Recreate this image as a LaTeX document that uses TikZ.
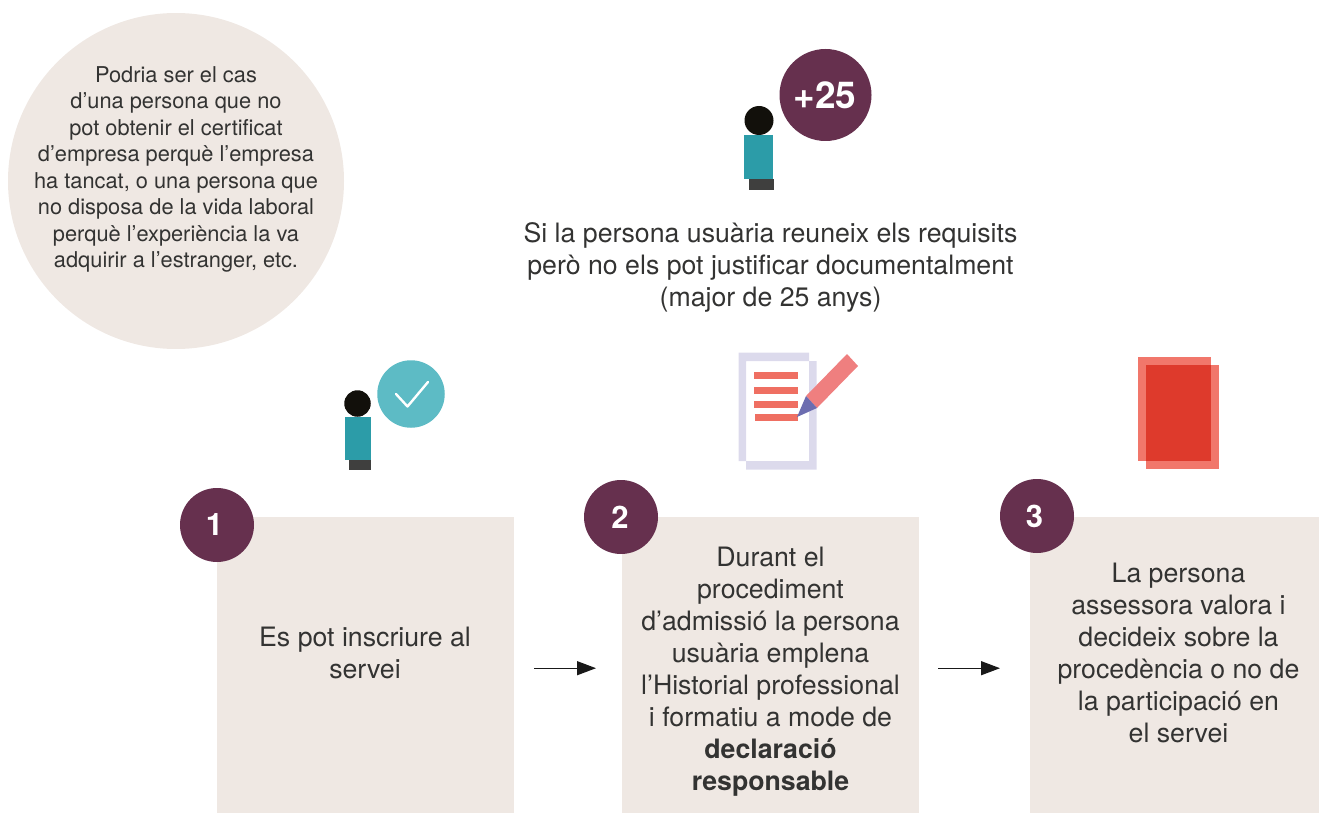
\documentclass[tikz,border=0pt]{standalone}
\usepackage{fontspec}
\setmainfont{TeX Gyre Heros}
\usetikzlibrary{arrows.meta}
\definecolor{plum}{HTML}{66304E}
\definecolor{sand}{HTML}{EFE8E3}
\definecolor{teal1}{HTML}{2C9CA8}
\definecolor{teal2}{HTML}{5DBBC5}
\definecolor{ink}{HTML}{12100B}
\definecolor{feet}{HTML}{3F3F3E}
\definecolor{txt}{HTML}{333332}
\definecolor{lav}{HTML}{DCDAEC}
\definecolor{coral}{HTML}{EF6F62}
\definecolor{pink}{HTML}{EF7F7F}
\definecolor{blue1}{HTML}{6C6DB0}
\definecolor{red1}{HTML}{F1776B}
\definecolor{red2}{HTML}{DE3A2C}
\newcommand{\fs}[2]{\fontsize{#1}{#2}\selectfont}
\tikzset{
  x=1pt,y=-1pt,
  box/.style={fill=sand,minimum width=297pt,minimum height=296pt,inner sep=0pt,anchor=north west},
  num/.style={circle,fill=plum,text=white,minimum size=74pt,inner sep=0pt,font=\fs{31}{36}\bfseries},
  body/.style={text=txt,align=center,inner sep=0pt,font=\fs{26.7}{32}},
  small/.style={text=txt,align=center,inner sep=0pt,font=\fs{21.8}{26.5}},
  flow/.style={-{Triangle[length=19pt,width=14pt]},line width=1.3pt,draw=black!90,shorten >=26pt,shorten <=20pt},
  head/.style={circle,fill=ink,inner sep=0pt},
}
\begin{document}
\begin{tikzpicture}
\useasboundingbox (0,0) rectangle (1319,813);
% note bubble
\node[circle,fill=sand,minimum size=336pt,inner sep=0pt] (note) at (176,181) {};
\node[small] (notetext) at (176,169.5) {Podria ser el cas\\d’una persona que no\\pot obtenir el certificat\\d’empresa perquè l’empresa\\ha tancat, o una persona que\\no disposa de la vida laboral\\perquè l’experiència la va\\adquirir a l’estranger, etc.};
% top person
\fill[teal1] (744,135) rectangle (773,179.5);
\fill[feet] (749,179.5) rectangle (774,190);
\node[head,minimum size=29pt] (headtop) at (759,120.5) {};
\node[circle,fill=plum,text=white,minimum size=92pt,inner sep=0pt,font=\fs{37}{42}\bfseries] (age) at (825.5,95) {+25\kern 1pt};
\node[body] (cond) at (770.5,267.5) {Si la persona usuària reuneix els requisits\\però no els pot justificar documentalment\\(major de 25 anys)};
% person with check
\fill[teal1] (344.5,417) rectangle (371,460);
\fill[feet] (349,460) rectangle (371,470);
\node[head,minimum size=26.5pt] (headone) at (357.5,403.5) {};
\node[circle,fill=teal2,minimum size=67.5pt,inner sep=0pt] (check) at (411,394) {};
\draw[white,line width=2.4pt,line cap=round,line join=round] (396,394) -- (407.5,406.5) -- (428,382);
% document
\fill[lav,even odd rule] (738.5,352.5) -- (809,352.5) -- (809,361) -- (816.5,361) -- (816.5,469.5) -- (746,469.5) -- (746,461) -- (738.5,461) -- cycle
  (746,361) rectangle (809,461);
\fill[coral] (754,372) rectangle (798,379);
\fill[coral] (754,387) rectangle (798,394);
\fill[coral] (754,401) rectangle (798,408);
\fill[coral] (754.5,414) rectangle (798,421);
\fill[pink] (806,396) -- (847,354) -- (858,366) -- (817,408) -- cycle;
\fill[blue1] (806,396) -- (817,408) -- (797,417) -- cycle;
% red book
\fill[red1] (1137.5,356.5) rectangle (1210.5,461);
\fill[red1] (1146,365) rectangle (1219,469);
\fill[red2] (1146,365) rectangle (1210.5,461);
% boxes
\node[box] (box1) at (217,517) {};
\node[box] (box2) at (622,517) {};
\node[box,minimum width=289pt] (box3) at (1030,517) {};
\node[body] (t1) at (365,653) {Es pot inscriure al\\servei};
\node[body] (t2) at (770.5,672) {Durant el\\procediment\\d’admissió la persona\\usuària emplena\\l’Historial professional\\i formatiu a mode de\\\textbf{declaració}\\\textbf{responsable}};
\node[body] (t3) at (1178.5,653) {La persona\\assessora valora i\\decideix sobre la\\procedència o no de\\la participació en\\el servei};
\node[num] (n1) at (217,525) {1\kern 5pt};
\node[num] (n2) at (621,517) {2\kern 2pt};
\node[num] (n3) at (1037,516) {3\kern 5pt};
\draw[flow] ([yshift=-3pt]box1.east) -- ([yshift=-3pt]box2.west);
\draw[flow,shorten >=30pt,shorten <=19pt] ([yshift=-3pt]box2.east) -- ([yshift=-3pt]box3.west);
\end{tikzpicture}
\end{document}
